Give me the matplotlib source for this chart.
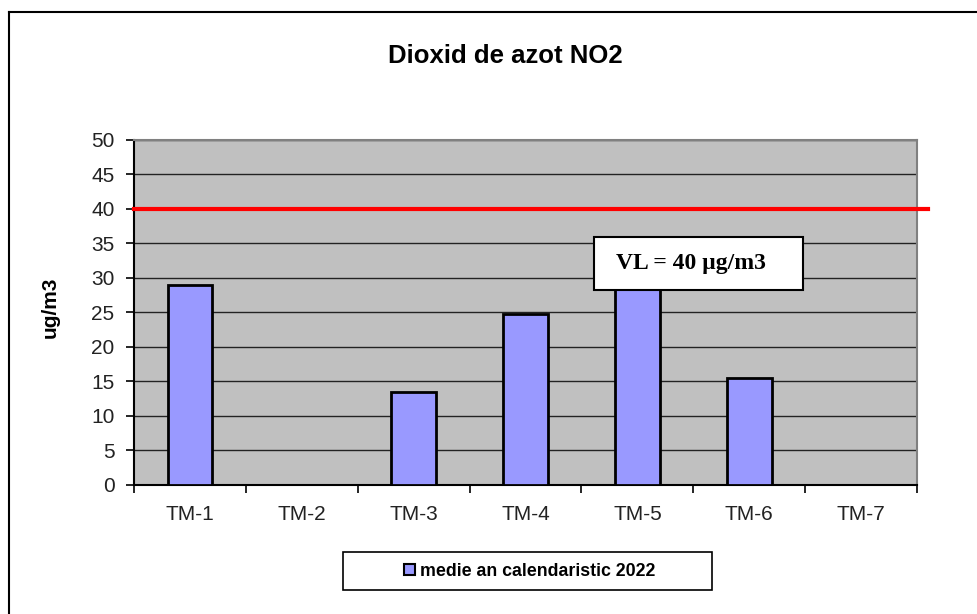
import matplotlib
matplotlib.use("Agg")
import matplotlib.pyplot as plt
from matplotlib.lines import Line2D
from matplotlib.patches import Patch, Rectangle
import numpy as np

# Data
stations = ["TM-1", "TM-2", "TM-3", "TM-4", "TM-5", "TM-6", "TM-7"]
no2_means = [28.9, np.nan, 13.4, 24.8, 30.0, 15.5, np.nan]
limit_value = 40
series_name = "medie an calendaristic 2022"
limit_text = "VL = 40 \u00b5g/m3"

plt.rcParams["font.family"] = ["Liberation Sans", "DejaVu Sans"]

fig = plt.figure(figsize=(9.77, 6.14), dpi=100)
ax = fig.add_axes([0.1372, 0.2109, 0.8014, 0.5611])

x = np.arange(len(stations))
ax.set_facecolor("#C0C0C0")
ax.bar(x, no2_means, width=0.4, color="#9999FF", edgecolor="black",
       linewidth=2, zorder=3)

ax.set_xlim(-0.5, len(stations) - 0.5)
ax.set_ylim(0, 50)
ax.set_yticks(range(0, 51, 5))
ax.yaxis.grid(True, color="#222222", linewidth=1)
ax.set_axisbelow(True)

# ticks on category boundaries, labels in the middle
ax.set_xticks(x)
ax.set_xticklabels(stations, fontsize=15, color="#222222")
ax.set_xticks(np.arange(-0.5, len(stations), 1), minor=True)
ax.tick_params(axis="x", which="major", length=0, pad=15)
ax.tick_params(axis="x", which="minor", length=6, width=1.2, color="black")
ax.tick_params(axis="y", length=6, width=1.2, labelsize=15, labelcolor="#222222", pad=8)

for side in ["left", "bottom"]:
    ax.spines[side].set_color("black")
    ax.spines[side].set_linewidth(1.5)
for side in ["top", "right"]:
    ax.spines[side].set_color("#808080")
    ax.spines[side].set_linewidth(1.5)

ax.set_ylabel("ug/m3", fontsize=15, fontweight="bold")
ax.yaxis.set_label_coords(-0.095, 0.514)

# limit value line (runs a bit past the plot area)
ax.axhline(limit_value, xmin=0, xmax=1.014, color="#FF0000", linewidth=3,
           clip_on=False, zorder=5)

# label box for the limit value
ax.add_patch(Rectangle((0.588, 0.565), 0.266, 0.153, transform=ax.transAxes,
                       facecolor="white", edgecolor="black", linewidth=1.5,
                       zorder=6))
ax.text(0.616, 0.641, limit_text, transform=ax.transAxes, fontsize=17,
        fontweight="bold", family=["Liberation Serif", "DejaVu Serif"],
        va="center", ha="left", zorder=7)

fig.text(0.517, 0.909, "Dioxid de azot NO2", fontsize=18.5, fontweight="bold",
         ha="center", va="center")

# legend in a wide box under the chart
fig.add_artist(Rectangle((0.351, 0.0391), 0.3777, 0.0619, transform=fig.transFigure,
                         facecolor="white", edgecolor="black", linewidth=1.2))
handle = Patch(facecolor="#9999FF", edgecolor="black", linewidth=1.5)
leg = fig.legend([handle], [series_name], loc="center",
                 bbox_to_anchor=(0.5425, 0.0700), frameon=False,
                 prop={"weight": "bold", "size": 12.8}, handlelength=0.6,
                 handleheight=0.6, handletextpad=0.3)

# outer chart border (only top and left edges are inside the image)
fig.add_artist(Line2D([0.0092, 1.0], [0.9805, 0.9805], color="black",
                      linewidth=1.5, transform=fig.transFigure))
fig.add_artist(Line2D([0.0092, 0.0092], [0.0, 0.9805], color="black",
                      linewidth=1.5, transform=fig.transFigure))

fig.savefig("out.png", dpi=100)
